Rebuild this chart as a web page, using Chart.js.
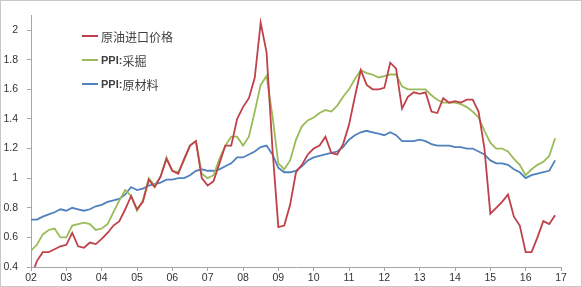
<!DOCTYPE html>
<html>
<head>
<meta charset="utf-8">
<script src="https://cdn.jsdelivr.net/npm/chart.js@4.4.1/dist/chart.umd.min.js"></script>
<style>
    body { margin: 0; background: #fff; }
    #wrap { position: relative; width: 582px; height: 287px; }
    #frame { position: absolute; left: 0; top: 0; width: 580px; height: 285px; border: 1px solid #c8c8c8; pointer-events: none; }
    #legend { position: absolute; left: 82px; top: 24px; font-size: 12px; color: #404040; }
    .item { display: flex; align-items: center; height: 24px; }
    .swatch { width: 16px; height: 2px; margin-right: 3px; }
    .cn { font-family: "Noto Sans CJK SC", sans-serif; }
    .en { font-family: "Liberation Sans", sans-serif; font-weight: bold; font-size: 11px; }
</style>
</head>
<body>
<div id="wrap">
    <canvas id="chart" width="582" height="287"></canvas>
    <div id="legend"></div>
    <div id="frame"></div>
</div>
<script>
// bi-monthly observations, Jan 2002 .. Nov 2016
const startYear = 2002;
const periods = [];
for (let i = 0; i < 90; i++) periods.push(startYear + i / 6);

const seriesNames = ['原油进口价格', 'PPI:采掘', 'PPI:原材料'];
const seriesColors = ['#c0404a', '#9bbb59', '#4f81bd'];

const crudeImport = [
    0.33, 0.44, 0.50, 0.50, 0.52, 0.54, 0.55, 0.63, 0.54, 0.53, 0.565, 0.555,
    0.59, 0.63, 0.68, 0.71, 0.79, 0.88, 0.79, 0.84, 0.99, 0.94, 1.01, 1.13,
    1.05, 1.03, 1.13, 1.22, 1.25, 1.00, 0.95, 0.98, 1.10, 1.22, 1.22, 1.40,
    1.48, 1.54, 1.68, 2.05, 1.85, 1.20, 0.67, 0.68, 0.82, 1.04, 1.09, 1.16,
    1.20, 1.22, 1.28, 1.17, 1.16, 1.23, 1.36, 1.55, 1.73, 1.63, 1.60, 1.60,
    1.61, 1.78, 1.74, 1.47, 1.55, 1.58, 1.57, 1.58, 1.45, 1.44, 1.54, 1.51,
    1.52, 1.51, 1.53, 1.53, 1.45, 1.20, 0.76, 0.80, 0.84, 0.89, 0.74, 0.68,
    0.50, 0.50, 0.60, 0.71, 0.69, 0.75
];
const ppiMining = [
    0.51, 0.55, 0.62, 0.65, 0.66, 0.60, 0.60, 0.68, 0.69, 0.70, 0.69, 0.65,
    0.66, 0.69, 0.77, 0.85, 0.92, 0.88, 0.78, 0.85, 1.00, 0.95, 1.01, 1.14,
    1.05, 1.04, 1.12, 1.22, 1.25, 1.03, 1.00, 1.02, 1.13, 1.22, 1.28, 1.28,
    1.22, 1.28, 1.45, 1.63, 1.69, 1.42, 1.10, 1.06, 1.12, 1.26, 1.35, 1.39,
    1.41, 1.44, 1.46, 1.45, 1.49, 1.55, 1.60, 1.67, 1.73, 1.71, 1.70, 1.68,
    1.69, 1.70, 1.70, 1.62, 1.60, 1.60, 1.60, 1.60, 1.56, 1.53, 1.51, 1.51,
    1.51, 1.50, 1.48, 1.45, 1.41, 1.32, 1.24, 1.20, 1.20, 1.18, 1.13, 1.09,
    1.02, 1.06, 1.09, 1.11, 1.15, 1.27
];
const ppiMaterials = [
    0.72, 0.72, 0.74, 0.755, 0.77, 0.79, 0.78, 0.80, 0.79, 0.78, 0.79, 0.81,
    0.82, 0.84, 0.85, 0.86, 0.89, 0.94, 0.92, 0.93, 0.95, 0.96, 0.97, 0.99,
    0.99, 1.00, 1.00, 1.02, 1.05, 1.06, 1.05, 1.05, 1.06, 1.08, 1.10, 1.14,
    1.14, 1.16, 1.18, 1.21, 1.22, 1.16, 1.07, 1.04, 1.04, 1.05, 1.08, 1.12,
    1.14, 1.15, 1.16, 1.17, 1.18, 1.21, 1.26, 1.29, 1.31, 1.32, 1.31, 1.30,
    1.29, 1.31, 1.29, 1.25, 1.25, 1.25, 1.26, 1.25, 1.23, 1.22, 1.22, 1.22,
    1.21, 1.21, 1.20, 1.20, 1.18, 1.16, 1.12, 1.10, 1.10, 1.09, 1.06, 1.04,
    1.00, 1.02, 1.03, 1.04, 1.05, 1.12
];
const seriesValues = [crudeImport, ppiMining, ppiMaterials];

const yMin = 0.4, yMax = 2.1, yStep = 0.2;
const xMin = 2002, xMax = 2017;

const datasets = seriesNames.map((name, s) => ({
    label: name,
    data: periods.map((p, i) => ({ x: p, y: seriesValues[s][i] })),
    borderColor: seriesColors[s],
    borderWidth: 1.8,
    pointRadius: 0,
    tension: 0,
    fill: false
}));

document.getElementById('legend').innerHTML = seriesNames.map((name, s) => {
    const html = name.startsWith('PPI:')
        ? `<span class="en">PPI:</span><span class="cn">${name.slice(4)}</span>`
        : `<span class="cn">${name}</span>`;
    return `<div class="item"><div class="swatch" style="background:${seriesColors[s]}"></div>${html}</div>`;
}).join('');

const tickFont = { size: 10.5, family: 'Liberation Sans' };

new Chart(document.getElementById('chart'), {
    type: 'line',
    data: { datasets },
    options: {
        responsive: false,
        animation: false,
        layout: { padding: { top: 9, right: 21, left: 0, bottom: 0 } },
        plugins: { legend: { display: false }, tooltip: { enabled: false } },
        scales: {
            x: {
                type: 'linear',
                min: xMin,
                max: xMax,
                afterFit: (scale) => { scale.height = 20; },
                ticks: {
                    stepSize: 1,
                    color: '#333',
                    font: tickFont,
                    padding: 1,
                    maxRotation: 0,
                    callback: (v) => String(v).slice(2)
                },
                grid: { drawOnChartArea: false, tickLength: 4, color: '#a6a6a6' },
                border: { color: '#a6a6a6' }
            },
            y: {
                min: yMin,
                max: yMax,
                afterFit: (scale) => { scale.width = 31; },
                ticks: {
                    stepSize: yStep,
                    includeBounds: false,
                    color: '#333',
                    font: tickFont,
                    padding: 9,
                    callback: (v) => String(Number(v.toFixed(1)))
                },
                grid: { drawOnChartArea: false, tickLength: 4, color: '#a6a6a6' },
                border: { color: '#a6a6a6' }
            }
        }
    }
});
</script>
</body>
</html>
